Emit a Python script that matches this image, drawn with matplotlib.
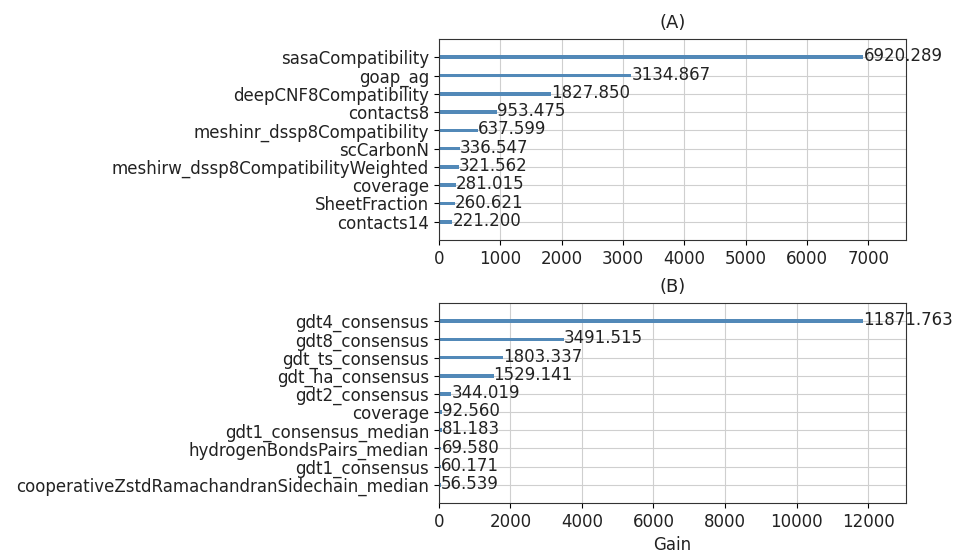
import matplotlib
matplotlib.use('Agg')
import matplotlib.pyplot as plt

# (A) top panel, largest first
featuresA = ['sasaCompatibility', 'goap_ag', 'deepCNF8Compatibility', 'contacts8',
             'meshinr_dssp8Compatibility', 'scCarbonN', 'meshirw_dssp8CompatibilityWeighted',
             'coverage', 'SheetFraction', 'contacts14']
gainA = [6920.289, 3134.867, 1827.850, 953.475, 637.599, 336.547, 321.562,
         281.015, 260.621, 221.200]

# (B) bottom panel, largest first
featuresB = ['gdt4_consensus', 'gdt8_consensus', 'gdt_ts_consensus', 'gdt_ha_consensus',
             'gdt2_consensus', 'coverage', 'gdt1_consensus_median', 'hydrogenBondsPairs_median',
             'gdt1_consensus', 'cooperativeZstdRamachandranSidechain_median']
gainB = [11871.763, 3491.515, 1803.337, 1529.141, 344.019, 92.560, 81.183, 69.580,
         60.171, 56.539]

FS = 12


def importancePlot(ax, features, gains, title, xlabel=None):
    feats = features[::-1]
    vals = gains[::-1]
    ylocs = range(len(vals))
    ax.barh(ylocs, vals, height=0.2, align='center', color='#5289b8')
    for x, y in zip(vals, ylocs):
        ax.text(x + 1, y + 0.05, f'{x:.3f}', va='center', fontsize=FS, color='#222222')
    ax.set_yticks(list(ylocs))
    ax.set_yticklabels(feats, fontsize=FS, color='#222222')
    ax.set_xlim(0, max(vals) * 1.1)
    ax.set_ylim(-1, len(vals))
    ax.grid(True, color='#cfcfcf', linewidth=0.8)
    ax.set_axisbelow(True)
    ax.tick_params(axis='x', labelsize=FS, labelcolor='#222222')
    for s in ax.spines.values():
        s.set_color('#333333')
    ax.set_title(title, fontsize=13, color='#222222', pad=8)
    if xlabel:
        ax.set_xlabel(xlabel, fontsize=FS, color='#222222')


fig = plt.figure(figsize=(9.71, 5.53), dpi=100)
axA = fig.add_axes([0.452, 0.566, 0.481, 0.3635])
axB = fig.add_axes([0.452, 0.0904, 0.481, 0.3616])
importancePlot(axA, featuresA, gainA, '(A)')
importancePlot(axB, featuresB, gainB, '(B)', xlabel='Gain')
fig.savefig('out.png', dpi=100)
